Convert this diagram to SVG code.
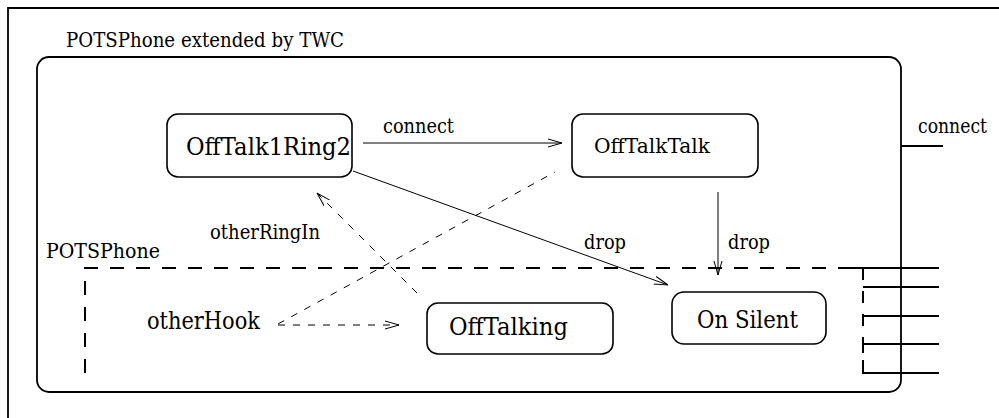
<svg xmlns="http://www.w3.org/2000/svg" width="999" height="418" viewBox="0 0 999 418">
  <style>
    text { font-family: 'DejaVu Serif', 'Liberation Serif', serif; fill: #000; }
    .state { fill: none; stroke: #000; stroke-width: 1.6; }
    .frame { fill: none; stroke: #000; stroke-width: 1.8; }
    .edge { fill: none; stroke: #000; stroke-width: 1; }
    .dash { stroke-dasharray: 7 8; }
    .bold { fill: none; stroke: #000; stroke-width: 2; }
  </style>
  <defs>
    <marker id="open" viewBox="0 0 14 10" refX="14" refY="5" markerWidth="14" markerHeight="10" markerUnits="userSpaceOnUse" orient="auto">
      <path d="M0,1 L14,5 L0,9" fill="none" stroke="#000" stroke-width="1"/>
    </marker>
  </defs>
  <rect width="999" height="418" fill="#fff"/>

  <!-- page frame -->
  <path d="M8,418 V8 H999" class="frame"/>

  <!-- extended superstate -->
  <g id="twc">
    <rect x="37" y="57" width="864" height="335" rx="12" class="frame"/>
    <text x="66" y="47" font-size="20" textLength="278" lengthAdjust="spacingAndGlyphs">POTSPhone extended by TWC</text>
    <text x="918" y="133" font-size="21" textLength="69" lengthAdjust="spacingAndGlyphs">connect</text>
    <line x1="901" y1="146" x2="943" y2="146" class="bold"/>
  </g>

  <!-- base superstate (dashed) with its ports -->
  <g id="pots">
    <text x="46" y="258" font-size="21" textLength="114" lengthAdjust="spacingAndGlyphs">POTSPhone</text>
    <path d="M85,373 V268 H850" class="bold" stroke-dasharray="14 12"/>
    <line x1="863" y1="268" x2="863" y2="373" class="bold" stroke-dasharray="12 11"/>
    <path d="M850,268 H939 M863,287 H939 M863,316 H939 M863,353 V344 H939 M863,366 V373 H939" class="bold"/>
  </g>

  <g id="offtalk1ring2">
    <rect x="167" y="114" width="185" height="63" rx="11" class="state"/>
    <text x="186" y="155" font-size="24.5" textLength="165" lengthAdjust="spacingAndGlyphs">OffTalk1Ring2</text>
  </g>
  <g id="offtalktalk">
    <rect x="572" y="114" width="186" height="63" rx="11" class="state"/>
    <text x="594" y="153" font-size="21" textLength="116" lengthAdjust="spacingAndGlyphs">OffTalkTalk</text>
  </g>
  <g id="offtalking">
    <rect x="427" y="303" width="186" height="51" rx="11" class="state"/>
    <text x="449" y="335" font-size="24" textLength="119" lengthAdjust="spacingAndGlyphs">OffTalking</text>
  </g>
  <g id="onsilent">
    <rect x="672" y="292" width="154" height="52" rx="12" class="state"/>
    <text x="697" y="328" font-size="24" textLength="101" lengthAdjust="spacingAndGlyphs">On Silent</text>
  </g>
  <g id="otherhook">
    <text x="147" y="329" font-size="24" textLength="113" lengthAdjust="spacingAndGlyphs">otherHook</text>
  </g>

  <!-- transitions -->
  <g id="connectors">
    <line x1="363" y1="143" x2="562" y2="143" class="edge" marker-end="url(#open)"/>
    <text x="383" y="133" font-size="21" textLength="71" lengthAdjust="spacingAndGlyphs">connect</text>

    <line x1="353" y1="171" x2="668" y2="285" class="edge" marker-end="url(#open)"/>
    <text x="584" y="249" font-size="21" textLength="42" lengthAdjust="spacingAndGlyphs">drop</text>

    <line x1="718" y1="192" x2="718" y2="275" class="edge" marker-end="url(#open)"/>
    <text x="728" y="249" font-size="21" textLength="42" lengthAdjust="spacingAndGlyphs">drop</text>

    <line x1="417" y1="293" x2="317" y2="193" class="edge dash" marker-end="url(#open)"/>
    <text x="210" y="239" font-size="21" textLength="110" lengthAdjust="spacingAndGlyphs">otherRingIn</text>

    <line x1="278" y1="324" x2="555" y2="172" class="edge dash"/>
    <line x1="278" y1="325" x2="399" y2="325" class="edge dash" marker-end="url(#open)"/>
  </g>
</svg>
